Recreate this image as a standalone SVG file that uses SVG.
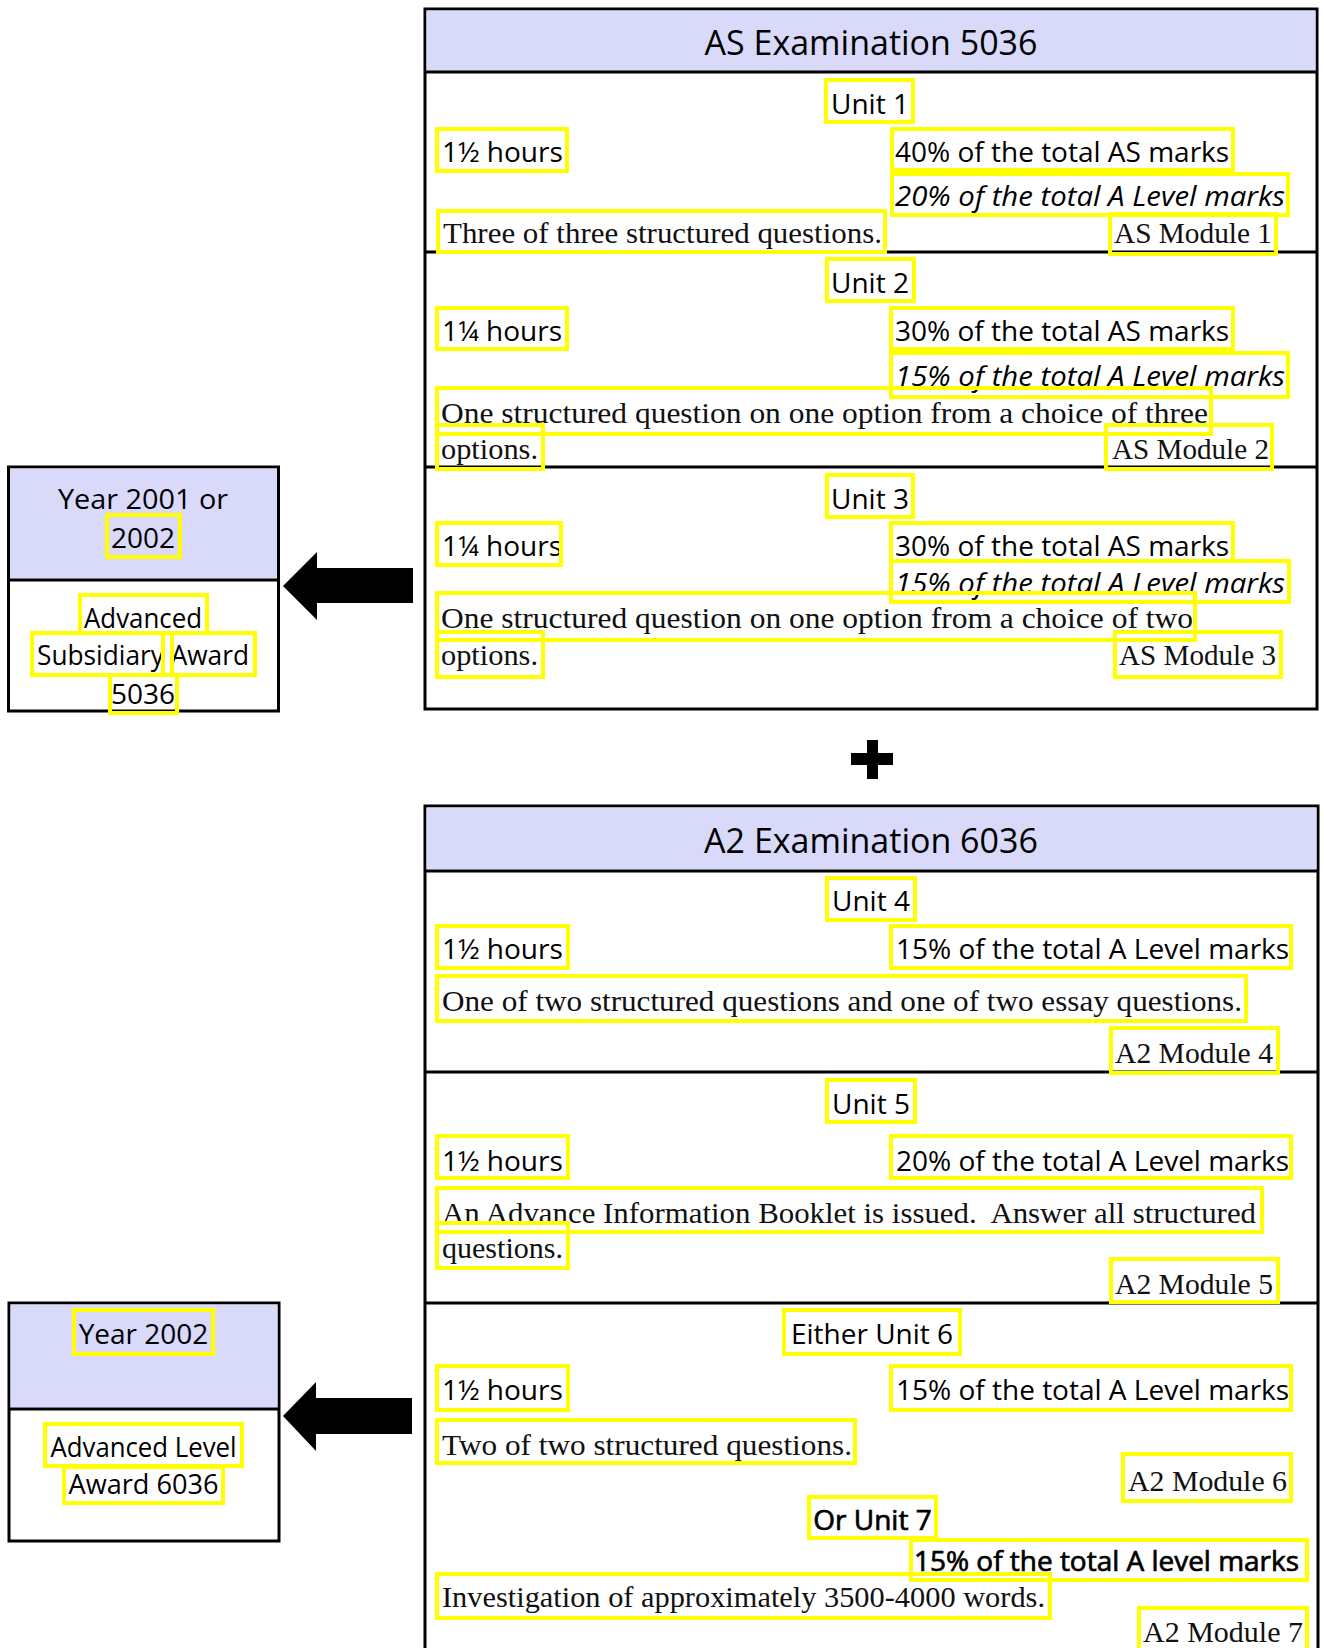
<svg xmlns="http://www.w3.org/2000/svg" width="1324" height="1648" viewBox="0 0 1324 1648">
<style>
.box{fill:#ffffff;stroke:#000;stroke-width:3}
.hd{fill:#d9d9fa;stroke:none}
.ln{stroke:#000;stroke-width:3}
.h{font-family:"Open Sans","DejaVu Sans",sans-serif;font-size:34px;fill:#000}
.s{font-family:"Open Sans","DejaVu Sans",sans-serif;font-size:28px;fill:#000}
.i{font-style:italic}
.b{stroke:#000;stroke-width:0.7}
.r{font-family:"Liberation Serif","DejaVu Serif",serif;font-size:30px;fill:#111}
.c{text-anchor:middle}
.hl{fill:none;stroke:#ffff00;stroke-width:4}
.arr{fill:#000;stroke:none}
</style>
<rect width="1324" height="1648" fill="#fff"/>

<g id="as-exam">
<rect class="box" x="425" y="9" width="892" height="700"/>
<rect class="hd" x="426.5" y="10.5" width="889" height="61"/>
<line class="ln" x1="425" y1="72" x2="1317" y2="72"/>
<line class="ln" x1="425" y1="252" x2="1317" y2="252"/>
<line class="ln" x1="425" y1="467" x2="1317" y2="467"/>
<text class="h c" x="871" y="55">AS Examination 5036</text>
<text class="s c" x="870" y="114">Unit 1</text>
<text class="s" x="442" y="162">1½ hours</text>
<text class="s" x="895" y="162">40% of the total AS marks</text>
<text class="s i" x="895" y="206" textLength="390" lengthAdjust="spacingAndGlyphs">20% of the total A Level marks</text>
<text class="r" x="443" y="243" textLength="439" lengthAdjust="spacingAndGlyphs">Three of three structured questions.</text>
<text class="r" x="1114" y="243" textLength="158" lengthAdjust="spacingAndGlyphs">AS Module 1</text>
<text class="s c" x="870" y="293">Unit 2</text>
<text class="s" x="442" y="341">1¼ hours</text>
<text class="s" x="895" y="341">30% of the total AS marks</text>
<text class="s i" x="895" y="386" textLength="390" lengthAdjust="spacingAndGlyphs">15% of the total A Level marks</text>
<text class="r" x="441" y="423" textLength="767" lengthAdjust="spacingAndGlyphs">One structured question on one option from a choice of three</text>
<text class="r" x="441" y="459" textLength="97" lengthAdjust="spacingAndGlyphs">options.</text>
<text class="r" x="1112" y="459" textLength="157" lengthAdjust="spacingAndGlyphs">AS Module 2</text>
<text class="s c" x="870" y="509">Unit 3</text>
<text class="s" x="442" y="556">1¼ hours</text>
<text class="s" x="895" y="556">30% of the total AS marks</text>
<text class="s i" x="895" y="593" textLength="390" lengthAdjust="spacingAndGlyphs">15% of the total A Level marks</text>
<text class="r" x="441" y="628" textLength="752" lengthAdjust="spacingAndGlyphs">One structured question on one option from a choice of two</text>
<text class="r" x="441" y="665" textLength="97" lengthAdjust="spacingAndGlyphs">options.</text>
<text class="r" x="1119" y="665" textLength="157" lengthAdjust="spacingAndGlyphs">AS Module 3</text>
</g>

<g id="plus">
<rect class="arr" x="867" y="740" width="11" height="39"/>
<rect class="arr" x="851" y="753" width="42" height="12"/>
</g>

<g id="a2-exam">
<rect class="box" x="425" y="806" width="893" height="900"/>
<rect class="hd" x="426.5" y="807.5" width="890" height="62"/>
<line class="ln" x1="425" y1="871" x2="1318" y2="871"/>
<line class="ln" x1="425" y1="1072" x2="1318" y2="1072"/>
<line class="ln" x1="425" y1="1303" x2="1318" y2="1303"/>
<text class="h c" x="871" y="853">A2 Examination 6036</text>
<text class="s c" x="871" y="911">Unit 4</text>
<text class="s" x="442" y="959">1½ hours</text>
<text class="s" x="896" y="959">15% of the total A Level marks</text>
<text class="r" x="442" y="1011" textLength="800" lengthAdjust="spacingAndGlyphs">One of two structured questions and one of two essay questions.</text>
<text class="r" x="1115" y="1063" textLength="158" lengthAdjust="spacingAndGlyphs">A2 Module 4</text>
<text class="s c" x="871" y="1114">Unit 5</text>
<text class="s" x="442" y="1171">1½ hours</text>
<text class="s" x="896" y="1171">20% of the total A Level marks</text>
<text class="r" x="442" y="1223" textLength="814" lengthAdjust="spacingAndGlyphs" xml:space="preserve">An Advance Information Booklet is issued.  Answer all structured</text>
<text class="r" x="442" y="1258" textLength="121" lengthAdjust="spacingAndGlyphs">questions.</text>
<text class="r" x="1115" y="1294" textLength="158" lengthAdjust="spacingAndGlyphs">A2 Module 5</text>
<text class="s c" x="872" y="1344">Either Unit 6</text>
<text class="s" x="442" y="1400">1½ hours</text>
<text class="s" x="896" y="1400">15% of the total A Level marks</text>
<text class="r" x="442" y="1455" textLength="410" lengthAdjust="spacingAndGlyphs">Two of two structured questions.</text>
<text class="r" x="1128" y="1491" textLength="159" lengthAdjust="spacingAndGlyphs">A2 Module 6</text>
<text class="s b c" x="872.5" y="1530">Or Unit 7</text>
<text class="s b" x="914" y="1571" textLength="385" lengthAdjust="spacingAndGlyphs">15% of the total A level marks</text>
<text class="r" x="442" y="1607" textLength="603" lengthAdjust="spacingAndGlyphs">Investigation of approximately 3500-4000 words.</text>
<text class="r" x="1143" y="1642" textLength="160" lengthAdjust="spacingAndGlyphs">A2 Module 7</text>
</g>

<g id="as-award">
<rect class="box" x="8.5" y="467" width="270" height="244"/>
<rect class="hd" x="10" y="468.5" width="267" height="110"/>
<line class="ln" x1="8.5" y1="580" x2="278.5" y2="580"/>
<text class="s c" x="143" y="509" textLength="170" lengthAdjust="spacingAndGlyphs">Year 2001 or</text>
<text class="s c" x="143" y="548">2002</text>
<text class="s c" x="143" y="628" textLength="118" lengthAdjust="spacingAndGlyphs">Advanced</text>
<text class="s c" x="143" y="665" textLength="212" lengthAdjust="spacingAndGlyphs">Subsidiary Award</text>
<text class="s c" x="143" y="704">5036</text>
</g>

<g id="a2-award">
<rect class="box" x="9" y="1303" width="270" height="238"/>
<rect class="hd" x="10.5" y="1304.5" width="267" height="103"/>
<line class="ln" x1="9" y1="1409" x2="279" y2="1409"/>
<text class="s c" x="143.5" y="1344">Year 2002</text>
<text class="s c" x="143.5" y="1457" textLength="186" lengthAdjust="spacingAndGlyphs">Advanced Level</text>
<text class="s c" x="143.5" y="1494" textLength="150" lengthAdjust="spacingAndGlyphs">Award 6036</text>
</g>

<g id="connectors">
<polygon class="arr" points="283,586 317,552 317,568 413,568 413,603 317,603 317,620"/>
<polygon class="arr" points="283,1416 316,1382 316,1398 412,1398 412,1434 316,1434 316,1451"/>
</g>

<g id="highlights">
<rect class="hl" x="826" y="80" width="87" height="42"/>
<rect class="hl" x="437" y="129" width="130" height="42"/>
<rect class="hl" x="892" y="129" width="341" height="41"/>
<rect class="hl" x="892" y="174" width="396" height="41"/>
<rect class="hl" x="438" y="211" width="447" height="41"/>
<rect class="hl" x="1110" y="214" width="166" height="40"/>
<rect class="hl" x="827" y="259" width="87" height="42"/>
<rect class="hl" x="437" y="308" width="130" height="41"/>
<rect class="hl" x="891" y="308" width="342" height="41"/>
<rect class="hl" x="891" y="353" width="397" height="44"/>
<rect class="hl" x="437" y="388" width="774" height="46"/>
<rect class="hl" x="437" y="425" width="106" height="44"/>
<rect class="hl" x="1106" y="425" width="166" height="44"/>
<rect class="hl" x="827" y="475" width="86" height="42"/>
<rect class="hl" x="437" y="523" width="124" height="42"/>
<rect class="hl" x="891" y="523" width="342" height="38"/>
<rect class="hl" x="891" y="561" width="398" height="41"/>
<rect class="hl" x="437" y="593" width="758" height="47"/>
<rect class="hl" x="437" y="632" width="106" height="45"/>
<rect class="hl" x="1115" y="632" width="166" height="45"/>
<rect class="hl" x="827" y="878" width="88" height="42"/>
<rect class="hl" x="437" y="926" width="131" height="42"/>
<rect class="hl" x="891" y="926" width="400" height="42"/>
<rect class="hl" x="437" y="976" width="809" height="45"/>
<rect class="hl" x="1111" y="1028" width="167" height="45"/>
<rect class="hl" x="827" y="1080" width="88" height="42"/>
<rect class="hl" x="437" y="1136" width="131" height="42"/>
<rect class="hl" x="891" y="1136" width="400" height="42"/>
<rect class="hl" x="437" y="1188" width="825" height="44"/>
<rect class="hl" x="437" y="1223" width="131" height="45"/>
<rect class="hl" x="1111" y="1259" width="167" height="43"/>
<rect class="hl" x="784" y="1310" width="176" height="44"/>
<rect class="hl" x="437" y="1366" width="131" height="44"/>
<rect class="hl" x="891" y="1366" width="400" height="44"/>
<rect class="hl" x="437" y="1420" width="418" height="43"/>
<rect class="hl" x="1123" y="1454" width="168" height="47"/>
<rect class="hl" x="809" y="1497" width="127" height="41"/>
<rect class="hl" x="911" y="1540" width="396" height="40"/>
<rect class="hl" x="437" y="1574" width="613" height="44"/>
<rect class="hl" x="1139" y="1608" width="168" height="44"/>
<rect class="hl" x="107" y="515" width="73" height="42"/>
<rect class="hl" x="80" y="595" width="127" height="38"/>
<rect class="hl" x="32" y="633" width="131" height="42"/>
<rect class="hl" x="172" y="633" width="83" height="42"/>
<rect class="hl" x="110" y="675" width="67" height="38"/>
<rect class="hl" x="74" y="1310" width="139" height="44"/>
<rect class="hl" x="45" y="1424" width="197" height="42"/>
<rect class="hl" x="64" y="1467" width="159" height="36"/>
</g>
</svg>
